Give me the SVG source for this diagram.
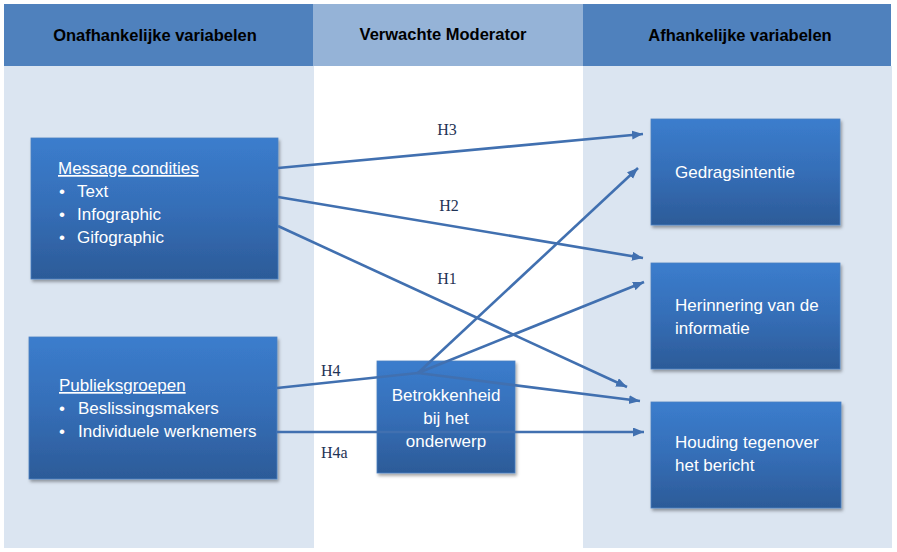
<svg xmlns="http://www.w3.org/2000/svg" width="897" height="552" viewBox="0 0 897 552">
<defs>
<linearGradient id="boxg" x1="0" y1="0" x2="0" y2="1">
<stop offset="0" stop-color="#3b7dcd"/>
<stop offset="0.5" stop-color="#356eb7"/>
<stop offset="1" stop-color="#2c5b98"/>
</linearGradient>
<filter id="sh" x="-10%" y="-10%" width="125%" height="130%">
<feDropShadow dx="1.5" dy="2.5" stdDeviation="1.8" flood-color="#000" flood-opacity="0.35"/>
</filter>
<marker id="arr" markerUnits="userSpaceOnUse" markerWidth="12" markerHeight="10" refX="11" refY="4.5" orient="auto">
<path d="M0,0 L11,4.5 L0,9 z" fill="#4170b0"/>
</marker>
<style>
.hdr{font-family:"Liberation Sans",Arial,sans-serif;font-weight:bold;font-size:16.5px;fill:#000;text-anchor:middle}
.box{fill:url(#boxg);stroke:#4a7fc0;stroke-width:0.8;filter:url(#sh)}
.bt{font-family:"Liberation Sans",Arial,sans-serif;font-size:17px;fill:#fff}
.lbl{font-family:"Liberation Serif","Times New Roman",serif;font-size:16px;fill:#1f3355}
.cn{fill:none;stroke:#4170b0;stroke-width:2.6}
</style>
</defs>
<g id="background">
<rect x="4" y="66" width="310" height="482" fill="#dbe5f1"/>
<rect x="583" y="66" width="309" height="482" fill="#dbe5f1"/>
<rect x="4" y="4" width="309" height="62" fill="#4f81bd"/>
<rect x="313" y="4" width="270" height="62" fill="#95b3d7"/>
<rect x="583" y="4" width="308" height="62" fill="#4f81bd"/>
<text class="hdr" x="155" y="41">Onafhankelijke variabelen</text>
<text class="hdr" x="443" y="40">Verwachte Moderator</text>
<text class="hdr" x="740" y="41">Afhankelijke variabelen</text>
</g>
<g id="node-message">
<rect class="box" x="31" y="138" width="247" height="141"/>
<text class="bt" x="58" y="174" text-decoration="underline">Message condities</text>
<text class="bt" x="59" y="197">•</text><text class="bt" x="77" y="197">Text</text>
<text class="bt" x="59" y="220">•</text><text class="bt" x="77" y="220">Infographic</text>
<text class="bt" x="59" y="243">•</text><text class="bt" x="77" y="243">Gifographic</text>
</g>
<g id="node-publiek">
<rect class="box" x="29" y="337" width="248" height="142"/>
<text class="bt" x="59" y="391" text-decoration="underline">Publieksgroepen</text>
<text class="bt" x="59" y="414">•</text><text class="bt" x="78" y="414">Beslissingsmakers</text>
<text class="bt" x="59" y="437">•</text><text class="bt" x="78" y="437">Individuele werknemers</text>
</g>
<g id="node-moderator">
<rect class="box" x="377" y="361" width="138" height="112"/>
<text class="bt" x="446" y="401" text-anchor="middle">Betrokkenheid</text>
<text class="bt" x="446" y="424" text-anchor="middle">bij het</text>
<text class="bt" x="446" y="447" text-anchor="middle">onderwerp</text>
</g>
<g id="node-gedrag">
<rect class="box" x="651" y="119" width="189" height="106"/>
<text class="bt" x="675" y="178">Gedragsintentie</text>
</g>
<g id="node-herinnering">
<rect class="box" x="651" y="263" width="189" height="106"/>
<text class="bt" x="675" y="311">Herinnering van de</text>
<text class="bt" x="675" y="334">informatie</text>
</g>
<g id="node-houding">
<rect class="box" x="651" y="402" width="190" height="106"/>
<text class="bt" x="675" y="448">Houding tegenover</text>
<text class="bt" x="675" y="471">het bericht</text>
</g>
<g id="connectors">
<line class="cn" x1="278" y1="168" x2="643" y2="134" marker-end="url(#arr)"/>
<line class="cn" x1="278" y1="197" x2="643" y2="258" marker-end="url(#arr)"/>
<line class="cn" x1="278" y1="226" x2="627" y2="387" marker-end="url(#arr)"/>
<line class="cn" x1="418" y1="373" x2="638" y2="168" marker-end="url(#arr)"/>
<line class="cn" x1="418" y1="373" x2="644" y2="282" marker-end="url(#arr)"/>
<polyline class="cn" points="277,388 418,373 640,401" marker-end="url(#arr)"/>
<line class="cn" x1="277" y1="432" x2="644" y2="432" marker-end="url(#arr)"/>
<text class="lbl" x="447" y="135" text-anchor="middle">H3</text>
<text class="lbl" x="449" y="211" text-anchor="middle">H2</text>
<text class="lbl" x="447" y="284" text-anchor="middle">H1</text>
<text class="lbl" x="321" y="376">H4</text>
<text class="lbl" x="321" y="458">H4a</text>
</g>
</svg>
